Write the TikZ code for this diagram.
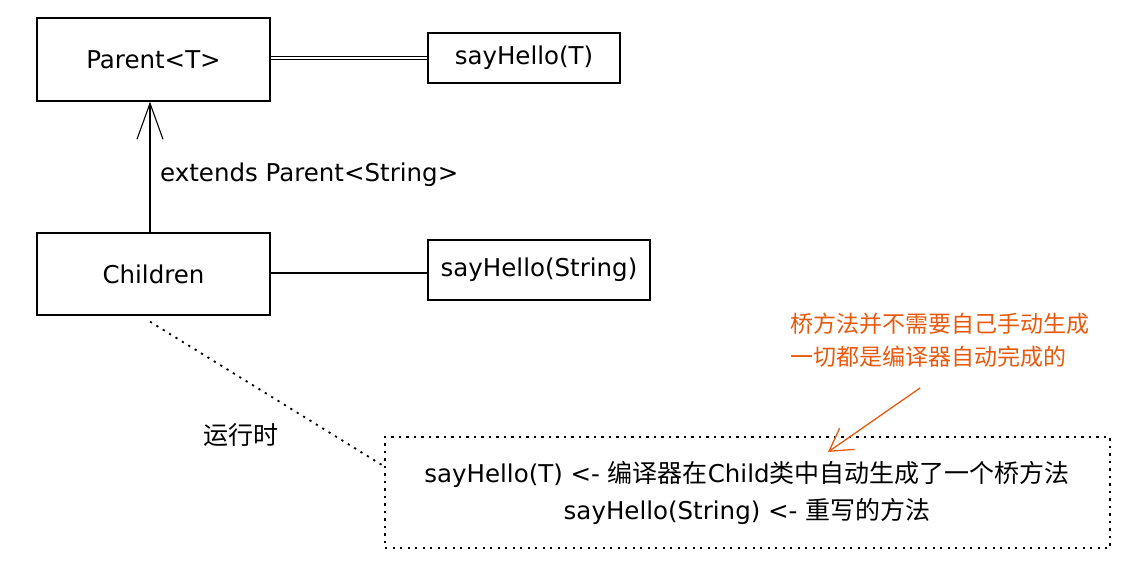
\documentclass[tikz,border=0pt]{standalone}
\usepackage{fontspec}
\setmainfont{DejaVu Sans}
\newfontfamily\cjk{Noto Sans CJK SC}
\usetikzlibrary{arrows.meta}
\definecolor{sketchorange}{HTML}{E8590C}
\newcommand{\zh}[1]{{\cjk\fontsize{25}{30}\selectfont #1}}
\tikzset{
  box/.style={draw, line width=1.3pt, inner sep=0pt, font=\fontsize{24.5}{29}\selectfont},
  lbl/.style={inner sep=0pt, font=\fontsize{24.5}{29}\selectfont},
  note/.style={inner sep=0pt, text=sketchorange, font=\cjk\fontsize{23}{33}\selectfont, align=left, anchor=north west},
  conn/.style={line width=1.1pt},
  sparse/.style={line width=1.8pt, dash pattern=on 2.2pt off 5.3pt},
}
\begin{document}
\begin{tikzpicture}[x=1pt,y=-1pt]
\useasboundingbox (0,0) rectangle (1124,561);
\node[box, minimum width=233pt, minimum height=83pt] (parent) at (153.5,59.5) {Parent<T>};
\node[box, minimum width=192pt, minimum height=50pt] (sht) at (524,58) {sayHello(T)};
\node[box, minimum width=233pt, minimum height=82pt] (child) at (153.5,274) {Children};
\node[box, minimum width=222pt, minimum height=60pt] (shs) at (539,270) {sayHello(String)};
\draw[line width=1pt] ([yshift=-1.3pt]parent.east |- sht.west) -- ([yshift=-1.3pt]sht.west);
\draw[line width=1pt] ([yshift=1.7pt]parent.east |- sht.west) -- ([yshift=1.7pt]sht.west);
\draw[conn] (child.east |- shs.west) ++(0,3) coordinate (cl) -- (cl -| shs.west);
\draw[conn, -{Straight Barb[length=36pt,width=26pt,line width=1.1pt]}] ([xshift=-3.5pt]child.north) -- ([xshift=-3.5pt]parent.south);
\node[lbl, anchor=west] (ext) at (160,175) {extends Parent<String>};
\node[draw, sparse, inner sep=0pt, minimum width=725pt, minimum height=111pt] (bridge) at (747.5,492.5) {};
\node[lbl, font=\fontsize{24.5}{37}\selectfont, align=center] (btext) at (747,493) {sayHello(T) <- \zh{编译器在}Child\zh{类中自动生成了一个桥方法}\\sayHello(String) <- \zh{重写的方法}};
\coordinate (dend) at (382,465);
\draw[sparse] ([xshift=-3.5pt,yshift=-6pt]child.south) -- (dend);
\node[lbl] (rt) at (241,435) {\zh{运行时}};
\node[note] (orange) at (790,313) {桥方法并不需要自己手动生成\\一切都是编译器自动完成的};
\coordinate (ostart) at (920,388);
\draw[line width=1.3pt, sketchorange, -{Straight Barb[length=22pt,width=26pt,line width=1.3pt]}] (ostart) -- (828,452);
\end{tikzpicture}
\end{document}
